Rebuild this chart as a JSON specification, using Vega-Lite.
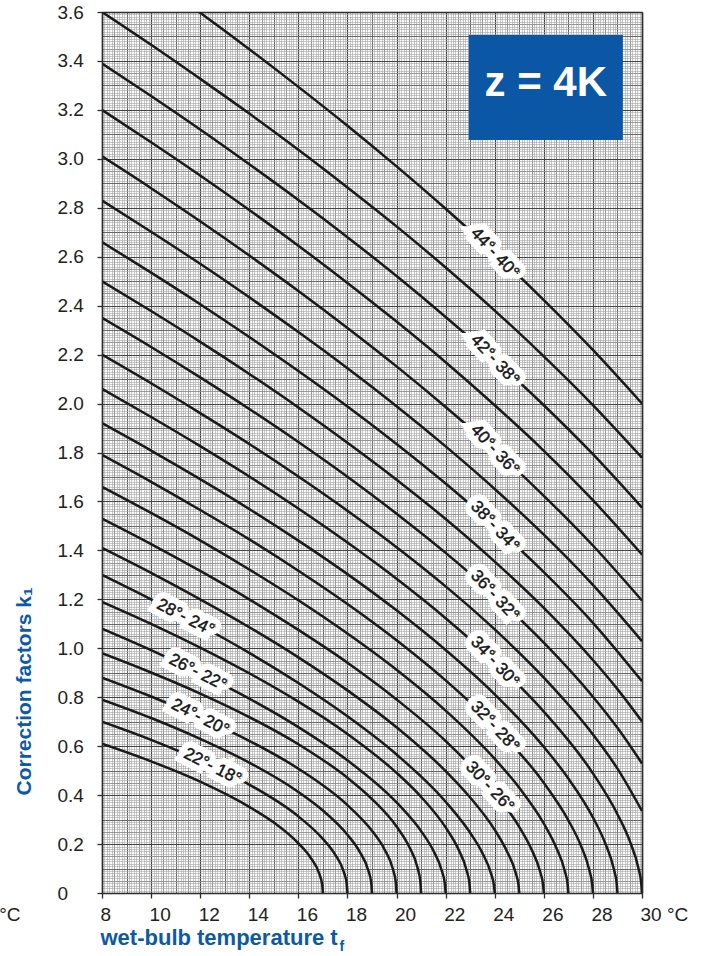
{
  "$schema": "https://vega.github.io/schema/vega-lite/v6.json",
  "width": 540,
  "height": 881,
  "autosize": {"type": "none"},
  "padding": {"left": 102, "top": 12, "right": 73, "bottom": 63},
  "background": "white",
  "config": {"font": "Liberation Sans", "view": {"stroke": null}},
  "datasets": {
    "curves": [
      {"tc":17,"tf":8,"k":0.61},{"tc":17,"tf":10,"k":0.538},{"tc":17,"tf":12,"k":0.455},{"tc":17,"tf":14,"k":0.352},{"tc":17,"tf":15,"k":0.288},{"tc":17,"tf":16,"k":0.203},{"tc":17,"tf":16.5,"k":0.144},{"tc":17,"tf":16.85,"k":0.079},{"tc":17,"tf":16.97,"k":0.035},{"tc":17,"tf":17,"k":0},
      {"tc":18,"tf":8,"k":0.70},{"tc":18,"tf":10,"k":0.626},{"tc":18,"tf":12,"k":0.542},{"tc":18,"tf":14,"k":0.443},{"tc":18,"tf":16,"k":0.313},{"tc":18,"tf":17,"k":0.221},{"tc":18,"tf":17.5,"k":0.157},{"tc":18,"tf":17.85,"k":0.086},{"tc":18,"tf":17.97,"k":0.038},{"tc":18,"tf":18,"k":0},
      {"tc":19,"tf":8,"k":0.79},{"tc":19,"tf":10,"k":0.715},{"tc":19,"tf":12,"k":0.630},{"tc":19,"tf":14,"k":0.533},{"tc":19,"tf":16,"k":0.413},{"tc":19,"tf":17,"k":0.337},{"tc":19,"tf":18,"k":0.238},{"tc":19,"tf":18.5,"k":0.168},{"tc":19,"tf":18.85,"k":0.092},{"tc":19,"tf":18.97,"k":0.041},{"tc":19,"tf":19,"k":0},
      {"tc":20,"tf":8,"k":0.88},{"tc":20,"tf":10,"k":0.803},{"tc":20,"tf":12,"k":0.718},{"tc":20,"tf":14,"k":0.622},{"tc":20,"tf":16,"k":0.508},{"tc":20,"tf":18,"k":0.359},{"tc":20,"tf":19,"k":0.254},{"tc":20,"tf":19.5,"k":0.180},{"tc":20,"tf":19.85,"k":0.098},{"tc":20,"tf":19.97,"k":0.044},{"tc":20,"tf":20,"k":0},
      {"tc":21,"tf":8,"k":0.98},{"tc":21,"tf":10,"k":0.901},{"tc":21,"tf":12,"k":0.815},{"tc":21,"tf":14,"k":0.719},{"tc":21,"tf":16,"k":0.608},{"tc":21,"tf":18,"k":0.471},{"tc":21,"tf":19,"k":0.384},{"tc":21,"tf":20,"k":0.272},{"tc":21,"tf":20.5,"k":0.192},{"tc":21,"tf":20.85,"k":0.105},{"tc":21,"tf":20.97,"k":0.047},{"tc":21,"tf":21,"k":0},
      {"tc":22,"tf":8,"k":1.08},{"tc":22,"tf":10,"k":0.992},{"tc":22,"tf":12,"k":0.897},{"tc":22,"tf":14,"k":0.794},{"tc":22,"tf":16,"k":0.678},{"tc":22,"tf":18,"k":0.542},{"tc":22,"tf":20,"k":0.370},{"tc":22,"tf":21,"k":0.253},{"tc":22,"tf":21.5,"k":0.173},{"tc":22,"tf":21.85,"k":0.089},{"tc":22,"tf":21.97,"k":0.037},{"tc":22,"tf":22,"k":0},
      {"tc":23,"tf":8,"k":1.19},{"tc":23,"tf":10,"k":1.100},{"tc":23,"tf":12,"k":1.003},{"tc":23,"tf":14,"k":0.898},{"tc":23,"tf":16,"k":0.782},{"tc":23,"tf":18,"k":0.650},{"tc":23,"tf":20,"k":0.491},{"tc":23,"tf":21,"k":0.393},{"tc":23,"tf":22,"k":0.268},{"tc":23,"tf":22.5,"k":0.183},{"tc":23,"tf":22.85,"k":0.094},{"tc":23,"tf":22.97,"k":0.039},{"tc":23,"tf":23,"k":0},
      {"tc":24,"tf":8,"k":1.30},{"tc":24,"tf":10,"k":1.200},{"tc":24,"tf":12,"k":1.094},{"tc":24,"tf":14,"k":0.981},{"tc":24,"tf":16,"k":0.858},{"tc":24,"tf":18,"k":0.722},{"tc":24,"tf":20,"k":0.566},{"tc":24,"tf":22,"k":0.373},{"tc":24,"tf":23,"k":0.246},{"tc":24,"tf":23.5,"k":0.163},{"tc":24,"tf":23.85,"k":0.079},{"tc":24,"tf":23.97,"k":0.030},{"tc":24,"tf":24,"k":0},
      {"tc":25,"tf":8,"k":1.41},{"tc":25,"tf":10,"k":1.308},{"tc":25,"tf":12,"k":1.200},{"tc":25,"tf":14,"k":1.086},{"tc":25,"tf":16,"k":0.963},{"tc":25,"tf":18,"k":0.828},{"tc":25,"tf":20,"k":0.677},{"tc":25,"tf":22,"k":0.498},{"tc":25,"tf":23,"k":0.390},{"tc":25,"tf":24,"k":0.258},{"tc":25,"tf":24.5,"k":0.170},{"tc":25,"tf":24.85,"k":0.083},{"tc":25,"tf":24.97,"k":0.031},{"tc":25,"tf":25,"k":0},
      {"tc":26,"tf":8,"k":1.53},{"tc":26,"tf":10,"k":1.426},{"tc":26,"tf":12,"k":1.316},{"tc":26,"tf":14,"k":1.200},{"tc":26,"tf":16,"k":1.075},{"tc":26,"tf":18,"k":0.941},{"tc":26,"tf":20,"k":0.791},{"tc":26,"tf":22,"k":0.621},{"tc":26,"tf":24,"k":0.409},{"tc":26,"tf":25,"k":0.270},{"tc":26,"tf":25.5,"k":0.178},{"tc":26,"tf":25.85,"k":0.087},{"tc":26,"tf":25.97,"k":0.033},{"tc":26,"tf":26,"k":0},
      {"tc":27,"tf":8,"k":1.66},{"tc":27,"tf":10,"k":1.553},{"tc":27,"tf":12,"k":1.441},{"tc":27,"tf":14,"k":1.322},{"tc":27,"tf":16,"k":1.196},{"tc":27,"tf":18,"k":1.060},{"tc":27,"tf":20,"k":0.912},{"tc":27,"tf":22,"k":0.745},{"tc":27,"tf":24,"k":0.548},{"tc":27,"tf":25,"k":0.430},{"tc":27,"tf":26,"k":0.284},{"tc":27,"tf":26.5,"k":0.187},{"tc":27,"tf":26.85,"k":0.091},{"tc":27,"tf":26.97,"k":0.035},{"tc":27,"tf":27,"k":0},
      {"tc":28,"tf":8,"k":1.79},{"tc":28,"tf":10,"k":1.680},{"tc":28,"tf":12,"k":1.565},{"tc":28,"tf":14,"k":1.445},{"tc":28,"tf":16,"k":1.317},{"tc":28,"tf":18,"k":1.181},{"tc":28,"tf":20,"k":1.033},{"tc":28,"tf":22,"k":0.869},{"tc":28,"tf":24,"k":0.681},{"tc":28,"tf":26,"k":0.450},{"tc":28,"tf":27,"k":0.297},{"tc":28,"tf":27.5,"k":0.196},{"tc":28,"tf":27.85,"k":0.095},{"tc":28,"tf":27.97,"k":0.036},{"tc":28,"tf":28,"k":0},
      {"tc":29,"tf":8,"k":1.92},{"tc":29,"tf":10,"k":1.808},{"tc":29,"tf":12,"k":1.691},{"tc":29,"tf":14,"k":1.569},{"tc":29,"tf":16,"k":1.440},{"tc":29,"tf":18,"k":1.303},{"tc":29,"tf":20,"k":1.155},{"tc":29,"tf":22,"k":0.993},{"tc":29,"tf":24,"k":0.812},{"tc":29,"tf":26,"k":0.597},{"tc":29,"tf":27,"k":0.468},{"tc":29,"tf":28,"k":0.309},{"tc":29,"tf":28.5,"k":0.204},{"tc":29,"tf":28.85,"k":0.099},{"tc":29,"tf":28.97,"k":0.038},{"tc":29,"tf":29,"k":0},
      {"tc":30,"tf":8,"k":2.06},{"tc":30,"tf":10,"k":1.945},{"tc":30,"tf":12,"k":1.826},{"tc":30,"tf":14,"k":1.702},{"tc":30,"tf":16,"k":1.571},{"tc":30,"tf":18,"k":1.432},{"tc":30,"tf":20,"k":1.284},{"tc":30,"tf":22,"k":1.123},{"tc":30,"tf":24,"k":0.945},{"tc":30,"tf":26,"k":0.741},{"tc":30,"tf":28,"k":0.489},{"tc":30,"tf":29,"k":0.322},{"tc":30,"tf":29.5,"k":0.213},{"tc":30,"tf":29.85,"k":0.103},{"tc":30,"tf":29.97,"k":0.039},{"tc":30,"tf":30,"k":0},
      {"tc":31,"tf":8,"k":2.20},{"tc":31,"tf":10,"k":2.083},{"tc":31,"tf":12,"k":1.961},{"tc":31,"tf":14,"k":1.835},{"tc":31,"tf":16,"k":1.702},{"tc":31,"tf":18,"k":1.562},{"tc":31,"tf":20,"k":1.413},{"tc":31,"tf":22,"k":1.253},{"tc":31,"tf":24,"k":1.077},{"tc":31,"tf":26,"k":0.880},{"tc":31,"tf":28,"k":0.648},{"tc":31,"tf":29,"k":0.508},{"tc":31,"tf":30,"k":0.335},
      {"tc":32,"tf":8,"k":2.35},{"tc":32,"tf":10,"k":2.231},{"tc":32,"tf":12,"k":2.107},{"tc":32,"tf":14,"k":1.978},{"tc":32,"tf":16,"k":1.843},{"tc":32,"tf":18,"k":1.701},{"tc":32,"tf":20,"k":1.550},{"tc":32,"tf":22,"k":1.390},{"tc":32,"tf":24,"k":1.216},{"tc":32,"tf":26,"k":1.023},{"tc":32,"tf":28,"k":0.802},{"tc":32,"tf":29,"k":0.675},{"tc":32,"tf":30,"k":0.529},
      {"tc":33,"tf":8,"k":2.50},{"tc":33,"tf":10,"k":2.378},{"tc":33,"tf":12,"k":2.252},{"tc":33,"tf":14,"k":2.121},{"tc":33,"tf":16,"k":1.984},{"tc":33,"tf":18,"k":1.840},{"tc":33,"tf":20,"k":1.689},{"tc":33,"tf":22,"k":1.528},{"tc":33,"tf":24,"k":1.354},{"tc":33,"tf":26,"k":1.165},{"tc":33,"tf":28,"k":0.952},{"tc":33,"tf":29,"k":0.833},{"tc":33,"tf":30,"k":0.701},
      {"tc":34,"tf":8,"k":2.66},{"tc":34,"tf":10,"k":2.535},{"tc":34,"tf":12,"k":2.406},{"tc":34,"tf":14,"k":2.272},{"tc":34,"tf":16,"k":2.133},{"tc":34,"tf":18,"k":1.988},{"tc":34,"tf":20,"k":1.835},{"tc":34,"tf":22,"k":1.673},{"tc":34,"tf":24,"k":1.499},{"tc":34,"tf":26,"k":1.311},{"tc":34,"tf":28,"k":1.104},{"tc":34,"tf":30,"k":0.865},
      {"tc":35,"tf":8,"k":2.83},{"tc":35,"tf":10,"k":2.702},{"tc":35,"tf":12,"k":2.571},{"tc":35,"tf":14,"k":2.434},{"tc":35,"tf":16,"k":2.292},{"tc":35,"tf":18,"k":2.144},{"tc":35,"tf":20,"k":1.989},{"tc":35,"tf":22,"k":1.825},{"tc":35,"tf":24,"k":1.651},{"tc":35,"tf":26,"k":1.464},{"tc":35,"tf":28,"k":1.259},{"tc":35,"tf":30,"k":1.029},
      {"tc":36,"tf":8,"k":3.01},{"tc":36,"tf":10,"k":2.880},{"tc":36,"tf":12,"k":2.745},{"tc":36,"tf":14,"k":2.605},{"tc":36,"tf":16,"k":2.460},{"tc":36,"tf":18,"k":2.309},{"tc":36,"tf":20,"k":2.152},{"tc":36,"tf":22,"k":1.986},{"tc":36,"tf":24,"k":1.811},{"tc":36,"tf":26,"k":1.623},{"tc":36,"tf":28,"k":1.420},{"tc":36,"tf":30,"k":1.195},
      {"tc":37,"tf":8,"k":3.20},{"tc":37,"tf":10,"k":3.068},{"tc":37,"tf":12,"k":2.932},{"tc":37,"tf":14,"k":2.791},{"tc":37,"tf":16,"k":2.645},{"tc":37,"tf":18,"k":2.493},{"tc":37,"tf":20,"k":2.335},{"tc":37,"tf":22,"k":2.169},{"tc":37,"tf":24,"k":1.993},{"tc":37,"tf":26,"k":1.807},{"tc":37,"tf":28,"k":1.605},{"tc":37,"tf":30,"k":1.383},
      {"tc":38,"tf":8,"k":3.39},{"tc":38,"tf":10,"k":3.257},{"tc":38,"tf":12,"k":3.120},{"tc":38,"tf":14,"k":2.978},{"tc":38,"tf":16,"k":2.832},{"tc":38,"tf":18,"k":2.680},{"tc":38,"tf":20,"k":2.521},{"tc":38,"tf":22,"k":2.354},{"tc":38,"tf":24,"k":2.179},{"tc":38,"tf":26,"k":1.993},{"tc":38,"tf":28,"k":1.793},{"tc":38,"tf":30,"k":1.575},
      {"tc":39,"tf":8,"k":3.60},{"tc":39,"tf":10,"k":3.466},{"tc":39,"tf":12,"k":3.327},{"tc":39,"tf":14,"k":3.185},{"tc":39,"tf":16,"k":3.037},{"tc":39,"tf":18,"k":2.883},{"tc":39,"tf":20,"k":2.724},{"tc":39,"tf":22,"k":2.556},{"tc":39,"tf":24,"k":2.380},{"tc":39,"tf":26,"k":2.193},{"tc":39,"tf":28,"k":1.994},{"tc":39,"tf":30,"k":1.779},
      {"tc":40,"tf":8,"k":3.881},{"tc":40,"tf":10,"k":3.741},{"tc":40,"tf":12,"k":3.597},{"tc":40,"tf":14,"k":3.448},{"tc":40,"tf":16,"k":3.294},{"tc":40,"tf":18,"k":3.135},{"tc":40,"tf":20,"k":2.969},{"tc":40,"tf":22,"k":2.796},{"tc":40,"tf":24,"k":2.615},{"tc":40,"tf":26,"k":2.423},{"tc":40,"tf":28,"k":2.219},{"tc":40,"tf":30,"k":2.000}
    ],
    "labels": [
      {"text":"44°- 40°","tf":24,"k":2.615,"side":"right"},
      {"text":"42°- 38°","tf":24,"k":2.179,"side":"right"},
      {"text":"40°- 36°","tf":24,"k":1.811,"side":"right"},
      {"text":"38°- 34°","tf":24,"k":1.499,"side":"right"},
      {"text":"36°- 32°","tf":24,"k":1.216,"side":"right"},
      {"text":"34°- 30°","tf":24,"k":0.945,"side":"right"},
      {"text":"32°- 28°","tf":24,"k":0.681,"side":"right"},
      {"text":"30°- 26°","tf":23.8,"k":0.434,"side":"right"},
      {"text":"28°- 24°","tf":11.4,"k":1.126,"side":"left"},
      {"text":"26°- 22°","tf":11.9,"k":0.902,"side":"left"},
      {"text":"24°- 20°","tf":12,"k":0.718,"side":"left"},
      {"text":"22°- 18°","tf":12.5,"k":0.517,"side":"left"}
    ],
    "badge": [
      {"text":"z = 4K","t0":22.94,"t1":29.22,"k0":3.077,"k1":3.506,"tx":26.08,"ky":3.31}
    ]
  },
  "resolve": {"axis": {"x": "independent", "y": "independent"}},
  "layer": [
    {
      "data": {"name": "curves"},
      "mark": {"type": "line", "interpolate": "monotone", "clip": true, "color": "#1a1a1a", "strokeWidth": 2.5},
      "encoding": {
        "x": {"field": "tf", "type": "quantitative", "scale": {"domain": [8, 30], "nice": false, "zero": false},
          "axis": {"orient": "bottom", "values": [8,10,12,14,16,18,20,22,24,26,28,30], "grid": false,
            "domain": true, "domainColor": "#2b2b2b", "domainWidth": 1.6,
            "ticks": true, "tickSize": 5, "tickColor": "#2b2b2b", "tickWidth": 1.3,
            "labelFontSize": 19, "labelColor": "#222222", "labelAlign": "left", "labelOffset": -2, "labelPadding": 7,
            "labelOverlap": false, "labelFlush": false, "labelBound": false,
            "labelExpr": "datum.value == 30 ? '30 °C' : datum.label",
            "title": "wet-bulb temperature t", "titleFontSize": 22, "titleFontWeight": "bold", "titleColor": "#0b5aa8",
            "titleAlign": "left", "titleBaseline": "alphabetic", "titleX": -2, "titleY": 51, "zindex": 1}},
        "y": {"field": "k", "type": "quantitative", "scale": {"domain": [0, 3.6], "nice": false, "zero": false},
          "axis": {"orient": "left", "values": [0,0.2,0.4,0.6,0.8,1,1.2,1.4,1.6,1.8,2,2.2,2.4,2.6,2.8,3,3.2,3.4,3.6], "grid": false,
            "domain": true, "domainColor": "#2b2b2b", "domainWidth": 1.6,
            "ticks": true, "tickSize": 5, "tickColor": "#2b2b2b", "tickWidth": 1.3,
            "labelFontSize": 19, "labelColor": "#222222", "labelAlign": "left", "labelBaseline": "middle", "labelPadding": 40,
            "labelOverlap": false, "labelFlush": false, "labelBound": false,
            "labelExpr": "datum.value == 0 ? '0' : format(datum.value, '.1f')",
            "title": "Correction factors k₁", "titleFontSize": 21, "titleFontWeight": "bold", "titleColor": "#0b5aa8",
            "titleAngle": 270, "titleAlign": "left", "titleBaseline": "alphabetic", "titleX": -72, "titleY": 783, "zindex": 1}},
        "detail": {"field": "tc", "type": "nominal"}
      }
    },
    {
      "data": {"name": "labels"},
      "mark": {"type": "text", "fontSize": 17, "fill": "white", "stroke": "white", "strokeWidth": 13, "strokeJoin": "miter", "align": "center", "baseline": "middle"},
      "encoding": {
        "x": {"field": "tf", "type": "quantitative", "scale": {"domain": [8, 30], "nice": false, "zero": false},
          "axis": {"orient": "bottom", "tickCount": 220, "grid": true, "gridColor": "#a4a4a4", "gridWidth": 0.6,
            "labels": false, "ticks": false, "domain": false,
            "title": "°C", "titleFontSize": 19, "titleFontWeight": "normal", "titleColor": "#222222",
            "titleAlign": "right", "titleBaseline": "alphabetic", "titleX": -82, "titleY": 27, "zindex": 0}},
        "y": {"field": "k", "type": "quantitative", "scale": {"domain": [0, 3.6], "nice": false, "zero": false},
          "axis": {"orient": "left", "tickCount": 360, "grid": true, "gridColor": "#a4a4a4", "gridWidth": 0.6,
            "labels": false, "ticks": false, "domain": false, "title": null, "zindex": 0}},
        "text": {"field": "text", "type": "nominal"},
        "angle": {"condition": {"test": "datum.side == 'left'", "value": 27}, "value": 47}
      }
    },
    {
      "data": {"name": "labels"},
      "mark": {"type": "text", "fontSize": 17, "fill": "#151515", "stroke": "#151515", "strokeWidth": 0.45, "align": "center", "baseline": "middle"},
      "encoding": {
        "x": {"field": "tf", "type": "quantitative", "scale": {"domain": [8, 30], "nice": false, "zero": false},
          "axis": {"orient": "bottom", "tickCount": 44, "grid": true, "gridColor": "#8a8a8a", "gridWidth": 0.75,
            "labels": false, "ticks": false, "domain": false,
            "title": "f", "titleFontSize": 14, "titleFontWeight": "bold", "titleColor": "#0b5aa8",
            "titleAlign": "left", "titleBaseline": "alphabetic", "titleX": 237, "titleY": 57, "zindex": 0}},
        "y": {"field": "k", "type": "quantitative", "scale": {"domain": [0, 3.6], "nice": false, "zero": false},
          "axis": {"orient": "left", "tickCount": 72, "grid": true, "gridColor": "#8a8a8a", "gridWidth": 0.75,
            "labels": false, "ticks": false, "domain": false, "title": null, "zindex": 0}},
        "text": {"field": "text", "type": "nominal"},
        "angle": {"condition": {"test": "datum.side == 'left'", "value": 27}, "value": 47}
      }
    },
    {
      "data": {"name": "badge"},
      "mark": {"type": "rect", "fill": "#0b57a6"},
      "encoding": {
        "x": {"field": "t0", "type": "quantitative", "scale": {"domain": [8, 30], "nice": false, "zero": false},
          "axis": {"orient": "top", "tickCount": 22, "grid": true, "gridColor": "#666666", "gridWidth": 0.95,
            "labels": false, "ticks": false, "domain": true, "domainColor": "#2b2b2b", "domainWidth": 1.6, "title": null, "zindex": 0}},
        "x2": {"field": "t1"},
        "y": {"field": "k0", "type": "quantitative", "scale": {"domain": [0, 3.6], "nice": false, "zero": false},
          "axis": {"orient": "right", "tickCount": 36, "grid": true, "gridColor": "#666666", "gridWidth": 0.95,
            "labels": false, "ticks": false, "domain": true, "domainColor": "#2b2b2b", "domainWidth": 1.6, "title": null, "zindex": 0}},
        "y2": {"field": "k1"}
      }
    },
    {
      "data": {"name": "badge"},
      "mark": {"type": "text", "fontSize": 42, "fontWeight": "bold", "fill": "white", "align": "center", "baseline": "middle"},
      "encoding": {
        "x": {"field": "tx", "type": "quantitative", "scale": {"domain": [8, 30], "nice": false, "zero": false},
          "axis": {"orient": "bottom", "tickCount": 11, "grid": true, "gridColor": "#444444", "gridWidth": 1.15,
            "labels": false, "ticks": false, "domain": false, "title": null, "zindex": 0}},
        "y": {"field": "ky", "type": "quantitative", "scale": {"domain": [0, 3.6], "nice": false, "zero": false},
          "axis": {"orient": "left", "tickCount": 18, "grid": true, "gridColor": "#444444", "gridWidth": 1.15,
            "labels": false, "ticks": false, "domain": false, "title": null, "zindex": 0}},
        "text": {"field": "text", "type": "nominal"}
      }
    }
  ]
}
